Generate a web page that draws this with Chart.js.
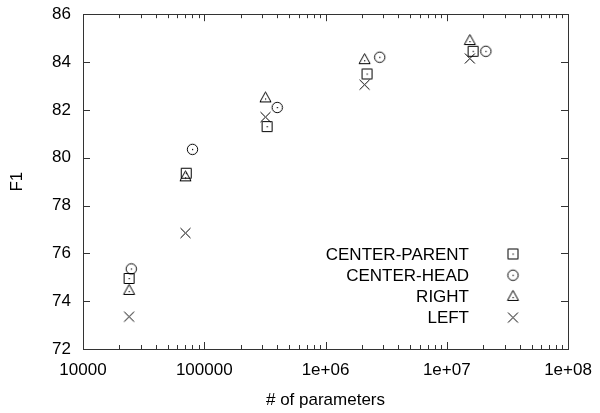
<!DOCTYPE html>
<html>
<head>
<meta charset="utf-8">
<script src="https://cdn.jsdelivr.net/npm/chart.js@4.4.0/dist/chart.umd.min.js"></script>
<style>
  html, body { margin: 0; padding: 0; background: #fff; }
  #wrap { width: 600px; height: 413px; }
</style>
</head>
<body>
<div id="wrap"><canvas id="chart" width="600" height="413"></canvas></div>
<script>
// series labels (legend order)
const seriesNames = ["CENTER-PARENT", "CENTER-HEAD", "RIGHT", "LEFT"];

// # of parameters per point, for each series
const paramsCenterParent = [24000, 71000, 330000, 2200000, 16500000];
const paramsCenterHead = [25000, 80000, 400000, 2800000, 21000000];
const paramsRight = [24000, 70000, 320000, 2100000, 15500000];
const paramsLeft = [24000, 70000, 320000, 2100000, 15500000];

// F1 values
const f1CenterParent = [74.95, 79.35, 81.3, 83.5, 84.45];
const f1CenterHead = [75.35, 80.35, 82.1, 84.2, 84.45];
const f1Right = [74.45, 79.2, 82.5, 84.1, 84.9];
const f1Left = [73.35, 76.85, 81.7, 83.05, 84.15];

// axis ticks
const xTicks = [10000, 100000, 1000000, 10000000, 100000000];
const xTickLabels = ["10000", "100000", "1e+06", "1e+07", "1e+08"];
const yTicks = [72, 74, 76, 78, 80, 82, 84, 86];

const INK = "#000";
const FONT = "'Liberation Sans', Arial, sans-serif";

function makeMarker(kind) {
  const c = document.createElement("canvas");
  c.width = 15;
  c.height = 15;
  const g = c.getContext("2d");
  g.strokeStyle = INK;
  g.fillStyle = INK;
  g.lineWidth = 1;
  g.beginPath();
  if (kind === "square") {
    g.rect(2.5, 2.5, 10, 10);
  } else if (kind === "circle") {
    g.arc(7.5, 7.5, 5.2, 0, Math.PI * 2);
  } else if (kind === "triangle") {
    g.moveTo(7.5, 1.5);
    g.lineTo(13, 11.5);
    g.lineTo(2, 11.5);
    g.closePath();
  } else {
    g.moveTo(2.5, 2.5);
    g.lineTo(12.5, 12.5);
    g.moveTo(12.5, 2.5);
    g.lineTo(2.5, 12.5);
  }
  g.stroke();
  if (kind !== "cross") {
    const cy = kind === "triangle" ? 8.5 : 7.5;
    g.fillRect(7, cy - 0.5, 1.2, 1.2);
  }
  return c;
}

const markers = [
  makeMarker("square"),
  makeMarker("circle"),
  makeMarker("triangle"),
  makeMarker("cross"),
];

function toPoints(xs, ys) {
  return xs.map((x, i) => ({ x: x, y: ys[i] }));
}

const allParams = [paramsCenterParent, paramsCenterHead, paramsRight, paramsLeft];
const allF1 = [f1CenterParent, f1CenterHead, f1Right, f1Left];

const datasets = seriesNames.map((name, i) => ({
  label: name,
  data: toPoints(allParams[i], allF1[i]),
  showLine: false,
  pointStyle: markers[i],
  pointRadius: 7,
  pointHoverRadius: 7,
}));

// box, inward ticks, minor log ticks and the key inside the plot
const framePlugin = {
  id: "frame",
  afterDraw(chart) {
    const ctx = chart.ctx;
    const a = chart.chartArea;
    const xs = chart.scales.x;
    const ys = chart.scales.y;
    ctx.save();
    ctx.strokeStyle = "#333";
    ctx.lineWidth = 1;
    ctx.strokeRect(
      Math.round(a.left) + 0.5,
      Math.round(a.top) + 0.5,
      Math.round(a.right - a.left),
      Math.round(a.bottom - a.top)
    );
    ctx.beginPath();
    yTicks.forEach((v) => {
      const y = Math.round(ys.getPixelForValue(v)) + 0.5;
      ctx.moveTo(a.left, y);
      ctx.lineTo(a.left + 7, y);
      ctx.moveTo(a.right, y);
      ctx.lineTo(a.right - 7, y);
    });
    xTicks.forEach((v) => {
      const x = Math.round(xs.getPixelForValue(v)) + 0.5;
      ctx.moveTo(x, a.bottom);
      ctx.lineTo(x, a.bottom - 7);
      ctx.moveTo(x, a.top);
      ctx.lineTo(x, a.top + 7);
    });
    for (let d = 0; d < xTicks.length - 1; d++) {
      for (let m = 2; m <= 9; m++) {
        const x = Math.round(xs.getPixelForValue(xTicks[d] * m)) + 0.5;
        ctx.moveTo(x, a.bottom);
        ctx.lineTo(x, a.bottom - 4);
        ctx.moveTo(x, a.top);
        ctx.lineTo(x, a.top + 4);
      }
    }
    ctx.stroke();

    // key
    ctx.font = "17px " + FONT;
    ctx.fillStyle = "#000";
    ctx.textAlign = "right";
    ctx.textBaseline = "middle";
    chart.data.datasets.forEach((ds, i) => {
      const y = a.bottom - 95 + i * 21.2;
      ctx.fillText(ds.label, a.right - 99, y + 1);
      const img = ds.pointStyle;
      ctx.drawImage(img, a.right - 55 - img.width / 2, y - img.height / 2);
    });
    ctx.restore();
  },
};

new Chart(document.getElementById("chart"), {
  type: "scatter",
  data: { datasets: datasets },
  options: {
    responsive: false,
    animation: false,
    devicePixelRatio: 1,
    layout: { padding: { left: 0, top: 10, right: 32, bottom: 0 } },
    plugins: {
      legend: { display: false },
      tooltip: { enabled: false },
    },
    scales: {
      x: {
        type: "logarithmic",
        min: xTicks[0],
        max: xTicks[xTicks.length - 1],
        grid: { display: false },
        border: { display: false },
        afterBuildTicks: (s) => {
          s.ticks = xTicks.map((v) => ({ value: v }));
        },
        afterFit: (s) => {
          s.height = 64;
        },
        ticks: {
          color: "#000",
          font: { family: FONT, size: 17 },
          padding: 3,
          maxRotation: 0,
          autoSkip: false,
          callback: (v) => {
            const i = xTicks.indexOf(v);
            return i >= 0 ? xTickLabels[i] : "";
          },
        },
        title: {
          display: true,
          text: "# of parameters",
          color: "#000",
          font: { family: FONT, size: 17 },
          padding: { top: 0, bottom: 2 },
        },
      },
      y: {
        min: yTicks[0],
        max: yTicks[yTicks.length - 1],
        grid: { display: false },
        border: { display: false },
        afterBuildTicks: (s) => {
          s.ticks = yTicks.map((v) => ({ value: v }));
        },
        afterFit: (s) => {
          s.width = 83;
        },
        ticks: {
          color: "#000",
          font: { family: FONT, size: 17 },
          padding: 4,
        },
        title: {
          display: true,
          text: "F1",
          color: "#000",
          font: { family: FONT, size: 17 },
          padding: { top: 7, bottom: 0 },
        },
      },
    },
  },
  plugins: [framePlugin],
});
</script>
</body>
</html>
